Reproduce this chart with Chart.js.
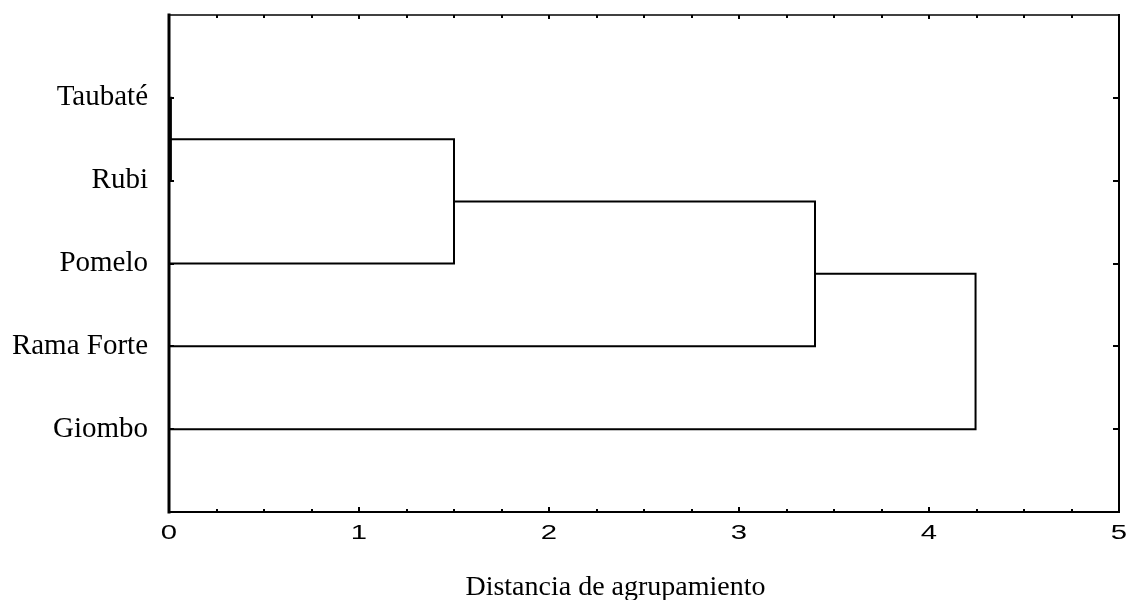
<!DOCTYPE html>
<html>
<head>
<meta charset="utf-8">
<script src="https://cdn.jsdelivr.net/npm/chart.js@4.4.0/dist/chart.umd.min.js"></script>
<style>
	html, body { margin: 0; padding: 0; background: #fff; }
	#wrap { width: 1129px; height: 600px; }
</style>
</head>
<body>
<div id="wrap"><canvas id="myChart" width="1129" height="600"></canvas></div>
<script>
// leaves from top to bottom
const leaves = ['Taubaté', 'Rubi', 'Pomelo', 'Rama Forte', 'Giombo'];
// each merge joins two nodes (leaf index, or leaves.length + merge index for a cluster)
const mergeLeft = [0, 5, 6, 7];
const mergeRight = [1, 2, 3, 4];
const mergeHeights = [0.01, 1.5, 3.4, 4.245];
const xTicks = [0, 1, 2, 3, 4, 5];
const xTitle = 'Distancia de agrupamiento';

function nodePos(id, nodes) {
	if (id < leaves.length) return {x: 0, y: id + 1};
	return nodes[id - leaves.length];
}

function buildDatasets() {
	let nodes = [];
	let sets = [];
	for (let i = 0; i < mergeHeights.length; i++) {
		let a = nodePos(mergeLeft[i], nodes);
		let b = nodePos(mergeRight[i], nodes);
		let h = mergeHeights[i];
		sets.push({
			data: [{x: a.x, y: a.y}, {x: h, y: a.y}, {x: h, y: b.y}, {x: b.x, y: b.y}],
			borderColor: '#000',
			borderWidth: 2,
			pointRadius: 0,
			tension: 0,
			fill: false
		});
		nodes.push({x: h, y: (a.y + b.y) / 2});
	}
	return sets;
}

// frame with inward ticks, the (wide) x tick labels and the axis title
const framePlugin = {
	id: 'frame',
	afterDraw(chart) {
		const ctx = chart.ctx;
		const a = chart.chartArea;
		const xs = chart.scales.x;
		const ys = chart.scales.y;
		ctx.save();
		ctx.strokeStyle = '#000';
		ctx.lineCap = 'square';

		ctx.lineWidth = 1.5;
		ctx.beginPath(); ctx.moveTo(a.left, a.top); ctx.lineTo(a.right, a.top); ctx.stroke();
		ctx.lineWidth = 2;
		ctx.beginPath(); ctx.moveTo(a.left, a.bottom); ctx.lineTo(a.right, a.bottom); ctx.stroke();
		ctx.beginPath(); ctx.moveTo(a.right, a.top); ctx.lineTo(a.right, a.bottom); ctx.stroke();
		ctx.lineWidth = 3;
		ctx.beginPath(); ctx.moveTo(a.left, a.top); ctx.lineTo(a.left, a.bottom); ctx.stroke();

		ctx.lineWidth = 2;
		ctx.lineCap = 'butt';
		for (let v = xs.min; v <= xs.max + 1e-9; v += 0.25) {
			let px = Math.round(xs.getPixelForValue(v));
			let major = Math.abs(v - Math.round(v)) < 1e-9;
			ctx.beginPath(); ctx.moveTo(px, a.bottom); ctx.lineTo(px, a.bottom - (major ? 5 : 3)); ctx.stroke();
			ctx.beginPath(); ctx.moveTo(px, a.top); ctx.lineTo(px, a.top + (major ? 4 : 3)); ctx.stroke();
		}
		for (let i = 1; i <= leaves.length; i++) {
			let py = Math.round(ys.getPixelForValue(i));
			ctx.beginPath(); ctx.moveTo(a.left, py); ctx.lineTo(a.left + 5, py); ctx.stroke();
			ctx.beginPath(); ctx.moveTo(a.right, py); ctx.lineTo(a.right - 6, py); ctx.stroke();
		}

		ctx.fillStyle = '#000';
		ctx.font = '19.5px "Liberation Sans", Arial, sans-serif';
		ctx.textAlign = 'center';
		ctx.textBaseline = 'middle';
		xs.ticks.forEach(t => {
			ctx.save();
			ctx.translate(xs.getPixelForValue(t.value), a.bottom + 22);
			ctx.scale(1.5, 1);
			ctx.fillText(String(t.value), 0, 0);
			ctx.restore();
		});

		ctx.font = '28px "Liberation Serif", "Times New Roman", serif';
		ctx.textBaseline = 'alphabetic';
		ctx.fillText(xTitle, xs.getPixelForValue(2.35), a.bottom + 83);
		ctx.restore();
	}
};

function drawGraph() {
	const myChart = document.getElementById('myChart').getContext('2d');
	const dendro = new Chart(myChart, {
		type: 'line',
		data: { datasets: buildDatasets() },
		options: {
			responsive: false,
			animation: false,
			layout: { padding: { top: 15, right: 10, left: 0, bottom: 0 } },
			plugins: { legend: { display: false }, tooltip: { enabled: false } },
			scales: {
				x: {
					type: 'linear',
					min: 0,
					max: 5,
					afterBuildTicks: s => { s.ticks = xTicks.map(v => ({value: v})); },
					afterFit: s => { s.height = 88; s.paddingLeft = 0; s.paddingRight = 0; },
					grid: { display: false, drawTicks: false },
					border: { display: false },
					ticks: { display: false }
				},
				y: {
					type: 'linear',
					min: 0,
					max: leaves.length + 1,
					reverse: true,
					afterBuildTicks: s => { s.ticks = leaves.map((n, i) => ({value: i + 1})); },
					afterFit: s => { s.width = 169; s.paddingTop = 0; s.paddingBottom = 0; },
					grid: { display: false, drawTicks: false },
					border: { display: false },
					ticks: {
						color: '#000',
						padding: 21,
						callback: v => leaves[v - 1],
						font: { family: '"Liberation Serif", "Times New Roman", serif', size: 29 }
					}
				}
			}
		},
		plugins: [framePlugin]
	});
}

drawGraph();
</script>
</body>
</html>
